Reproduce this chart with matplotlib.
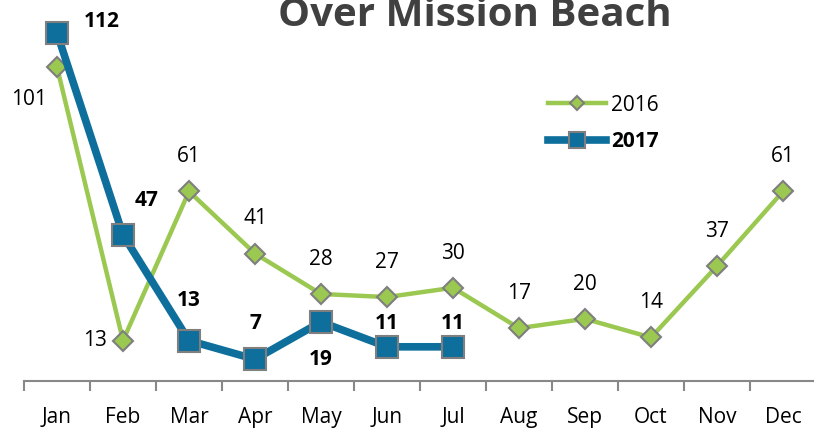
import numpy as np
import matplotlib.pyplot as plt

months = ['Jan', 'Feb', 'Mar', 'Apr', 'May', 'Jun', 'Jul', 'Aug', 'Sep', 'Oct', 'Nov', 'Dec']
vals_2016 = [101, 13, 61, 41, 28, 27, 30, 17, 20, 14, 37, 61]
vals_2017 = [112, 47, 13, 7, 19, 11, 11]

# label placement per point (dx, dy in points)
off_2016 = [(-20, -23), (-20, 0), (0, 25), (0, 25), (0, 25), (0, 25), (0, 25), (0, 25), (0, 25), (0, 25), (0, 25), (0, 25)]
off_2017 = [(32, 8), (17, 25), (0, 29), (0, 26), (0, -27), (0, 17), (0, 17)]

plt.rcParams['font.family'] = ['Open Sans', 'DejaVu Sans']

green = '#9BC850'
blue = '#0F6F9C'
edge = '#7F7F7F'

fig = plt.figure(figsize=(8.14, 4.28), dpi=100)
ax = fig.add_axes([24 / 814, 1 - 381 / 428, 792 / 814, 373 / 428])

x16 = np.arange(len(vals_2016))
x17 = np.arange(len(vals_2017))

ax.plot(x16, vals_2016, color=green, lw=3.2, marker='D', ms=10,
        mfc=green, mec=edge, mew=1.5, label='2016', zorder=3)
ax.plot(x17, vals_2017, color=blue, lw=5.5, marker='s', ms=16,
        mfc=blue, mec=edge, mew=1.5, label='2017', zorder=4)

for x, v, (dx, dy) in zip(x16, vals_2016, off_2016):
    ax.annotate(str(v), (x, v), xytext=(dx, dy), textcoords='offset points',
                ha='center', va='center', fontsize=15, color='black')
for x, v, (dx, dy) in zip(x17, vals_2017, off_2017):
    ax.annotate(str(v), (x, v), xytext=(dx, dy), textcoords='offset points',
                ha='center', va='center', fontsize=15, color='black', fontweight='bold')

ax.set_xlim(-0.5, 11.5)
ax.set_ylim(0, 120)
ax.set_yticks([])
ax.set_xticks(x16)
ax.set_xticklabels(months, fontsize=15)
ax.set_xticks(np.arange(-0.5, 12, 1), minor=True)
ax.tick_params(axis='x', which='major', length=0, pad=19)
ax.tick_params(axis='x', which='minor', length=7, width=1.5, color='#888888', direction='out')
for s in ['top', 'right', 'left']:
    ax.spines[s].set_visible(False)
ax.spines['bottom'].set_color('#888888')
ax.spines['bottom'].set_linewidth(1.5)

leg = ax.legend(loc='upper left', bbox_to_anchor=(505 / 792, 1 - 68 / 373), frameon=False,
                fontsize=15, handlelength=2.8, handletextpad=0.25, labelspacing=0.75,
                markerscale=0.7)
leg.get_texts()[1].set_fontweight('bold')

fig.text(475 / 814, 1 - 26 / 428, 'Over Mission Beach', ha='center', va='baseline',
         fontsize=29, fontweight='bold', color='#404040')

fig.savefig('out.png', dpi=100)
